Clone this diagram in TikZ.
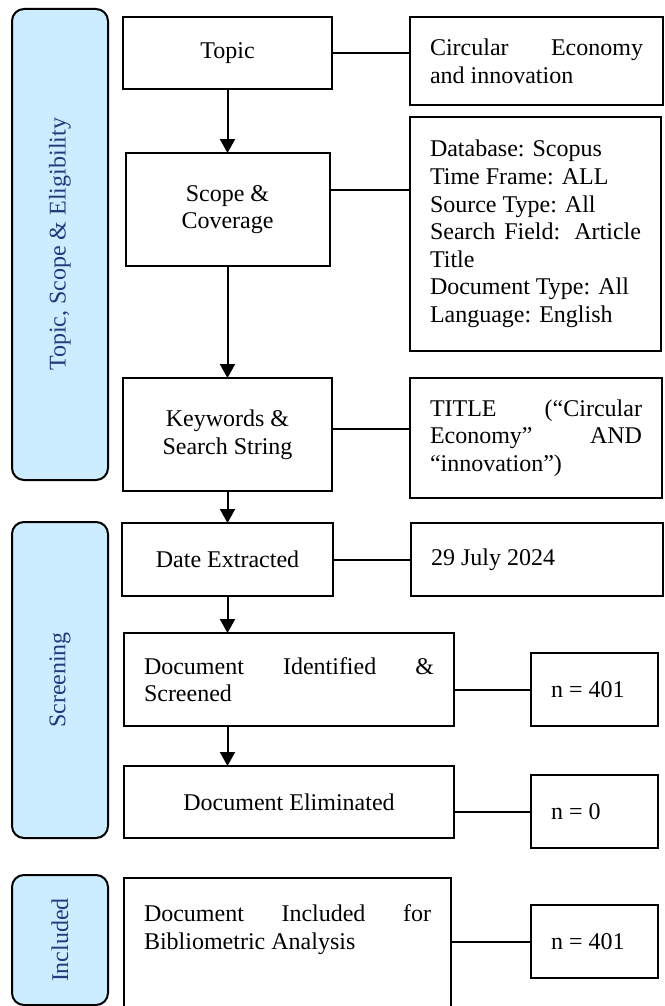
\documentclass[tikz,border=0pt]{standalone}
\usepackage{fontspec}
\setmainfont{Liberation Serif}
\usetikzlibrary{positioning,arrows.meta}
\definecolor{stagefill}{HTML}{CCECFF}
\definecolor{stagetext}{HTML}{1F3C7C}
\hyphenpenalty=10000
\exhyphenpenalty=10000

\begin{document}
\begin{tikzpicture}[
		x=0.5pt, y=-0.5pt,
		font=\fontsize{12pt}{13.8pt}\selectfont,
		box/.style = {draw, line width=1pt, inner sep=0pt, outer sep=0pt, align=center},
		note/.style = {draw, line width=1pt, inner xsep=10pt, inner ysep=0pt, outer sep=0pt, align=justify},
		stage/.style = {draw, line width=1pt, fill=stagefill, text=stagetext, rounded corners=6pt, rotate=90, minimum height=48pt},
		arrow/.style = {line width=1pt, -{Triangle[width=7.5pt,length=7pt]}},
		link/.style = {line width=1pt}
	]
	\useasboundingbox (0,0) rectangle (664,1006);
	\clip (0,0) rectangle (664,1006);

	% Stages.
	\node[stage, minimum width=235.5pt] (s1) at (60,244.5) {Topic, Scope \& Eligibility};
	\node[stage, minimum width=158pt] (s2) at (60,680) {Screening};
	\node[stage, minimum width=65pt] (s3) at (60,940) {Included};

	% Main steps.
	\node[box, anchor=north west, minimum width=104.5pt, minimum height=36pt] (topic) at (123,17) {Topic};
	\node[box, below=32pt of topic, minimum width=102pt, minimum height=56.5pt] (scope) {Scope \&\\Coverage};
	\node[box, below=56pt of scope, minimum width=104.5pt, minimum height=56.5pt] (keys) {Keywords \&\\Search String};
	\node[box, below=16pt of keys, minimum width=105.5pt, minimum height=36.5pt] (date) {Date Extracted};
	\node[note, below=18.5pt of date.south west, anchor=north west, xshift=1pt, text width=145pt, minimum height=46.5pt] (found) {Document Identified \& Screened};
	\node[box, below=20pt of found, minimum width=165pt, minimum height=36pt] (removed) {Document Eliminated};
	\node[note, below=20pt of removed.south west, anchor=north west, text width=143.5pt, inner ysep=13.3pt] (kept) {Document Included for Bibliometric Analysis\par\rule{0pt}{70pt}};

	% Details.
	\node[note, right=39pt of topic.north east, anchor=north west, text width=106.5pt, minimum height=44pt] (topicnote) {Circular Economy and innovation};
	\node[note, below=6pt of topicnote.south west, anchor=north west, text width=105.5pt, minimum height=117pt] (scopenote) {Database: Scopus\par Time Frame: ALL\par Source Type: All\par Search Field: Article Title\par Document Type: All\par Language: English};
	\node[note, right=39pt of keys.north east, anchor=north west, text width=106pt, minimum height=60pt] (keysnote) {TITLE (“Circular Economy” AND “innovation”)};
	\node[note, right=39pt of date.north east, anchor=north west, text width=106pt, minimum height=36.5pt] (datenote) {29 July 2024};
	\node[note, right=38.5pt of found.south east, anchor=south west, text width=43.5pt, minimum height=36.5pt] (foundn) {n = 401};
	\node[note, below=24.5pt of foundn, text width=43.5pt, minimum height=36.5pt] (removedn) {n = 0};
	\node[note, below=28.5pt of removedn, text width=43.5pt, minimum height=36.5pt] (keptn) {n = 401};

	\draw[arrow] (topic.south) -- (topic.south |- scope.north);
	\draw[arrow] (scope.south) -- (scope.south |- keys.north);
	\draw[arrow] (keys.south) -- (keys.south |- date.north);
	\draw[arrow] (date.south) -- (date.south |- found.north);
	\draw[arrow] (date.south |- found.south) -- (date.south |- removed.north);

	\draw[link] (topic.east) -- (topic.east -| topicnote.west);
	\draw[link] ([yshift=9.75pt]scope.east) -- ([yshift=9.75pt]scope.east -| scopenote.west);
	\draw[link] ([yshift=2.75pt]keys.east) -- ([yshift=2.75pt]keys.east -| keysnote.west);
	\draw[link] (date.east) -- (date.east -| datenote.west);
	\draw[link] (foundn.west -| found.east) -- (foundn.west);
	\draw[link] (removedn.west -| removed.east) -- (removedn.west);
	\draw[link] (keptn.west -| kept.east) -- (keptn.west);
\end{tikzpicture}
\end{document}
